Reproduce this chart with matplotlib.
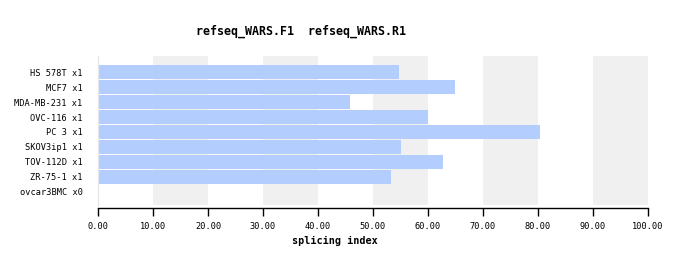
import matplotlib
matplotlib.use("Agg")
import matplotlib.pyplot as plt

# Data
samples = ["HS 578T x1", "MCF7 x1", "MDA-MB-231 x1", "OVC-116 x1", "PC 3 x1",
           "SKOV3ip1 x1", "TOV-112D x1", "ZR-75-1 x1", "ovcar3BMC x0"]
splicing = [54.7, 64.9, 45.8, 60.0, 80.4, 55.1, 62.7, 53.3, 0.0]
xticks = [0, 10, 20, 30, 40, 50, 60, 70, 80, 90, 100]

W, H = 688, 266
fig = plt.figure(figsize=(W / 100, H / 100), dpi=100)
ax = fig.add_axes([98 / W, (H - 205) / H, 550 / W, 149 / H])

# spines first: moving a spine resets the tick labels
for s in ["top", "right"]:
    ax.spines[s].set_visible(False)
ax.spines["left"].set_color("#e6e6e6")
ax.spines["left"].set_linewidth(1)
ax.spines["bottom"].set_position(("outward", 2))
ax.spines["bottom"].set_linewidth(1)

# alternating grey bands
for lo in range(10, 100, 20):
    ax.axvspan(lo, lo + 10, color="#f0f0f0", lw=0, zorder=0)

ypos = list(range(len(samples)))
ax.barh(ypos, splicing, height=14 / 15, color="#b3cdff", zorder=2)

ax.set_xlim(0, 100)
ax.set_ylim(8.87, -1.07)
ax.set_yticks(ypos)
ax.set_yticklabels(samples, family="DejaVu Sans Mono", fontsize=6.2)
ax.tick_params(axis="y", length=0, pad=11)
ax.set_xticks(xticks)
ax.set_xticklabels(["%.2f" % v for v in xticks], family="DejaVu Sans Mono", fontsize=6.2)
ax.tick_params(axis="x", length=6, width=1, direction="out", pad=4)

fig.text(301 / W, 1 - 31 / H, "refseq_WARS.F1  refseq_WARS.R1", ha="center", va="center",
         family="DejaVu Sans Mono", fontsize=8.4, fontweight="bold")
fig.text(335 / W, 1 - 241 / H, "splicing index", ha="center", va="center",
         family="DejaVu Sans Mono", fontsize=7.3, fontweight="bold")

fig.savefig("out.png", dpi=100)
